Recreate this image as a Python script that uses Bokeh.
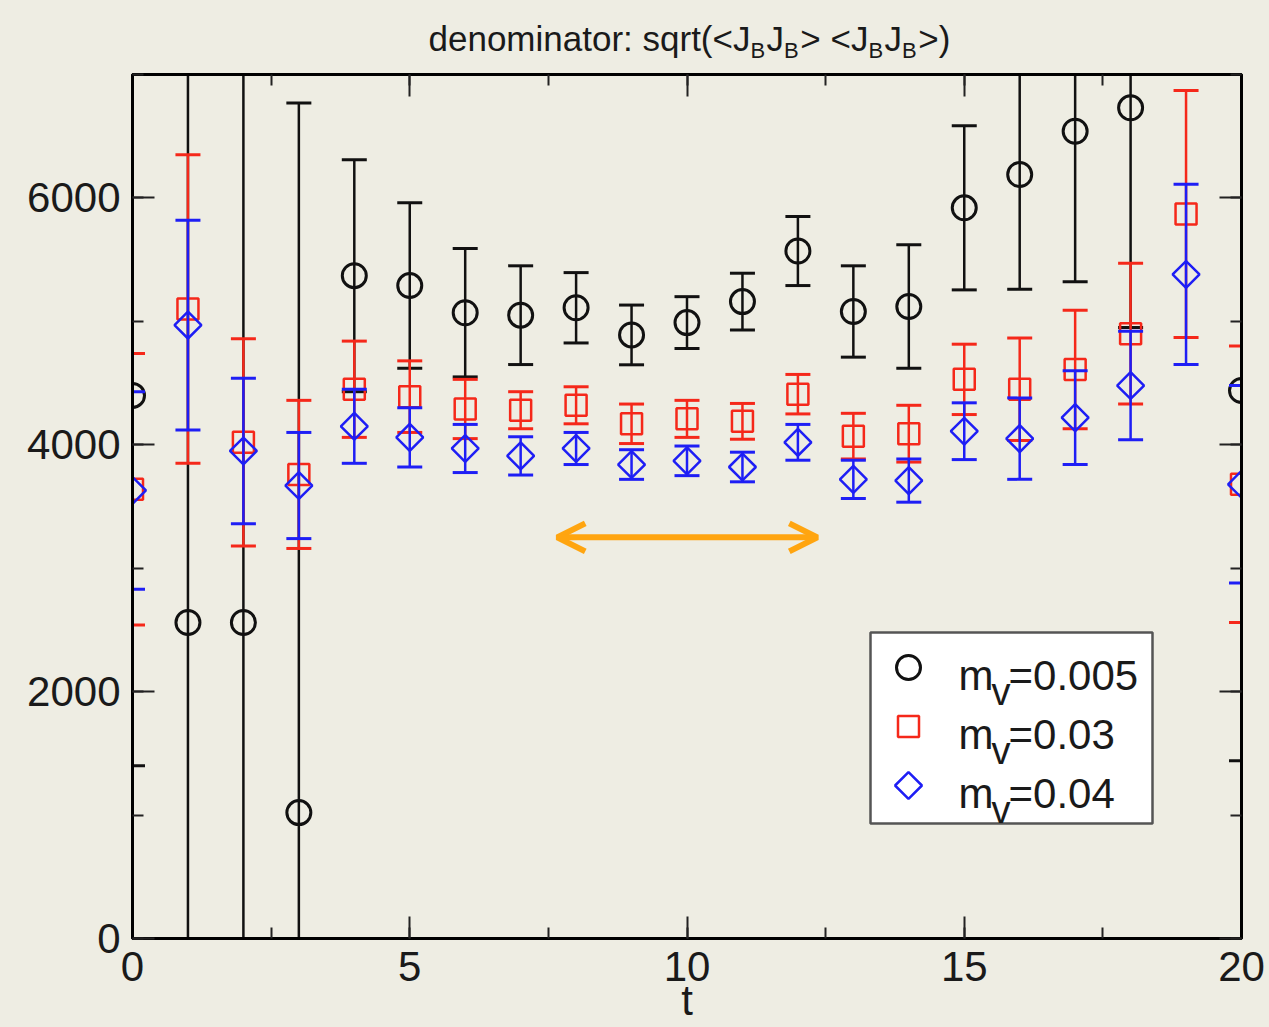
from bokeh.plotting import figure
from bokeh.layouts import column
from bokeh.models import (Range1d, LinearAxis, SingleIntervalTicker, CustomJSTickFormatter,
                          Label, Arrow, OpenHead, ColumnDataSource)
from bokeh.embed import file_html
from bokeh.resources import INLINE

# ---- data: correlator denominator vs. time slice t, three valence masses ----
t_black = [0, 1, 2, 3, 4, 5, 6, 7, 8, 9, 10, 11, 12, 13, 14, 15, 16, 17, 18, 20]
val_black = [4400, 2560, 2560, 1020, 5370, 5290, 5070, 5050, 5110, 4890, 4990,
             5160, 5570, 5080, 5120, 5920, 6190, 6540, 6730, 4440]
err_black = [3000, 6000, 6000, 5750, 940, 670, 520, 400, 285, 242, 210,
             230, 280, 370, 500, 665, 930, 1220, 1780, 3000]

t_all = list(range(21))
val_red = [3640, 5100, 4020, 3760, 4450, 4390, 4290, 4280, 4320, 4170, 4210,
           4190, 4410, 4070, 4090, 4530, 4450, 4610, 4900, 5870, 3680]
err_red = [1100, 1250, 840, 600, 390, 290, 240, 150, 150, 160, 150,
           145, 160, 185, 230, 285, 415, 480, 570, 1000, 1120]
val_blue = [3630, 4970, 3950, 3670, 4150, 4060, 3970, 3910, 3970, 3840, 3870,
            3820, 4020, 3720, 3710, 4110, 4050, 4220, 4480, 5380, 3680]
err_blue = [800, 850, 590, 430, 300, 240, 195, 155, 130, 120, 120,
            120, 145, 155, 175, 230, 330, 380, 440, 730, 800]

series_labels = ["0.005", "0.03", "0.04"]

# plateau window marked with a double arrow
plateau_t = (7.66, 12.35)
plateau_y = 3250

# ---- layout (pixels) ----
W = 1269
TITLE_H = 70
H = 1027 - TITLE_H
FL, FT, FW, FH = 132, 4, 1109, 864
X0, X1, Y0, Y1 = 0, 20, 0, 7000
BG = "#eeede3"
FONT = "Liberation Sans"
TXT = "#1a1a1a"


def dx(px):
    return X0 + (px - FL) / FW * (X1 - X0)


def dy(py):
    return Y1 - (py - FT) / FH * (Y1 - Y0)


# ---- title strip: canvas whose data units are pixels ----
head = figure(width=W, height=TITLE_H, title=None,
              x_range=Range1d(FL, FL + FW), y_range=Range1d(TITLE_H, 0),
              x_axis_location=None, y_axis_location=None,
              output_backend="svg", toolbar_location=None,
              min_border_left=FL, min_border_right=W - FL - FW,
              min_border_top=0, min_border_bottom=0,
              background_fill_color=BG, border_fill_color=BG, outline_line_color=None)
head.grid.visible = False

ADV = {"d": 556, "e": 556, "n": 556, "o": 556, "m": 833, "i": 222, "a": 556, "t": 278,
       "r": 333, ":": 278, " ": 278, "s": 500, "q": 556, "(": 333, ")": 333, "<": 584,
       ">": 584, "J": 500, "B": 667}


def width(s, size):
    return sum(ADV[c] for c in s) * size / 1000.0


MAIN, SUB, DROP = 35, 22, 12
runs = [("denominator: sqrt(<", 0), ("J", 0), ("B", 1), ("J", 0), ("B", 1), ("> <", 0),
        ("J", 0), ("B", 1), ("J", 0), ("B", 1), (">)", 0)]
x = 428.0
base = 38
for s, sub in runs:
    size = SUB if sub else MAIN
    head.add_layout(Label(x=x, y=base + (DROP if sub else 0), text=s, text_font=FONT,
                          text_font_size=f"{size}px", text_baseline="alphabetic",
                          text_align="left", text_color=TXT))
    x += width(s, size) + (1.5 if sub else 0)

# ---- main panel ----
p = figure(width=W, height=H, x_range=Range1d(X0, X1), y_range=Range1d(Y0, Y1),
           output_backend="svg", toolbar_location=None,
           min_border_left=FL, min_border_top=FT,
           min_border_right=W - FL - FW, min_border_bottom=H - FT - FH,
           background_fill_color=BG, border_fill_color=BG)
p.grid.visible = False
p.outline_line_color = "black"
p.outline_line_width = 3

xt = SingleIntervalTicker(interval=5, num_minor_ticks=2)
yt = SingleIntervalTicker(interval=2000, num_minor_ticks=2)
p.xaxis.ticker = xt
p.yaxis.ticker = yt

blank = CustomJSTickFormatter(code="return ''")
p.add_layout(LinearAxis(ticker=xt, formatter=blank), "above")
p.add_layout(LinearAxis(ticker=yt, formatter=blank), "right")

for ax in p.axis:
    ax.axis_line_width = 3
    ax.axis_line_color = "black"
    ax.major_tick_in = 22
    ax.major_tick_out = 0
    ax.minor_tick_in = 11
    ax.minor_tick_out = 0
    ax.major_tick_line_width = 2
    ax.minor_tick_line_width = 2
    ax.major_tick_line_color = "#222"
    ax.minor_tick_line_color = "#222"
    ax.major_label_text_font = FONT
    ax.major_label_text_font_size = "42px"
    ax.major_label_text_color = TXT
xa = p.below[0]
xa.major_label_standoff = 13
xa.axis_label = "t"
xa.axis_label_text_font = FONT
xa.axis_label_text_font_size = "42px"
xa.axis_label_text_font_style = "normal"
xa.axis_label_text_color = TXT
xa.axis_label_standoff = -7
p.left[0].major_label_standoff = 12
for ax in p.above + p.right:
    ax.major_label_text_font_size = "0px"
    ax.major_label_standoff = 0


def draw_series(t, vals, errs, color, marker, size, angle=0.0, lw=2.5):
    src = ColumnDataSource(dict(t=t, v=vals,
                                lo=[v - e for v, e in zip(vals, errs)],
                                hi=[v + e for v, e in zip(vals, errs)]))
    p.segment(x0="t", y0="lo", x1="t", y1="hi", source=src, line_color=color, line_width=2.5)
    p.scatter(x="t", y="hi", marker="dash", size=25, line_color=color, line_width=3, source=src)
    p.scatter(x="t", y="lo", marker="dash", size=25, line_color=color, line_width=3, source=src)
    p.scatter(x="t", y="v", marker=marker, size=size, angle=angle, fill_alpha=0,
              line_color=color, line_width=lw, source=src)


BLACK, RED, BLUE = "#111111", "#f5281a", "#1e1ef5"
draw_series(t_black, val_black, err_black, BLACK, "circle", 24, lw=3)
draw_series(t_all, val_red, err_red, RED, "square", 21)
draw_series(t_all, val_blue, err_blue, BLUE, "square", 19, angle=0.785398)

ORANGE = "#ffa510"
p.add_layout(Arrow(x_start=plateau_t[0], x_end=plateau_t[1], y_start=plateau_y, y_end=plateau_y,
                   line_color=ORANGE, line_width=6,
                   start=OpenHead(size=28, line_color=ORANGE, line_width=6),
                   end=OpenHead(size=28, line_color=ORANGE, line_width=6)))


def put_text(px_x, px_y, s, size):
    p.add_layout(Label(x=dx(px_x), y=dy(px_y), text=s, text_font=FONT,
                       text_font_size=f"{size}px", text_baseline="alphabetic",
                       text_align="left", text_color=TXT))


# legend box, sample markers and entries (pixel positions within the panel)
LY = -TITLE_H
p.quad(left=[dx(870)], right=[dx(1152)], top=[dy(632 + LY)], bottom=[dy(823 + LY)],
       fill_color="white", line_color="#555555", line_width=2.5)
rows = [667 + LY, 726 + LY, 785 + LY]
p.scatter(x=[dx(908)], y=[dy(rows[0])], marker="circle", size=24, fill_alpha=0,
          line_color=BLACK, line_width=3)
p.scatter(x=[dx(908)], y=[dy(rows[1])], marker="square", size=21, fill_alpha=0,
          line_color=RED, line_width=2.5)
p.scatter(x=[dx(908)], y=[dy(rows[2])], marker="square", size=19, angle=0.785398,
          fill_alpha=0, line_color=BLUE, line_width=2.5)
for r, lab in zip(rows, series_labels):
    put_text(958, r + 8, "m", 42)
    put_text(991, r + 24, "v", 38)
    put_text(1008, r + 8, "=" + lab, 42)

layout = column(head, p, spacing=0, styles={"background-color": BG})
open("out.html", "w").write(file_html(layout, INLINE))
